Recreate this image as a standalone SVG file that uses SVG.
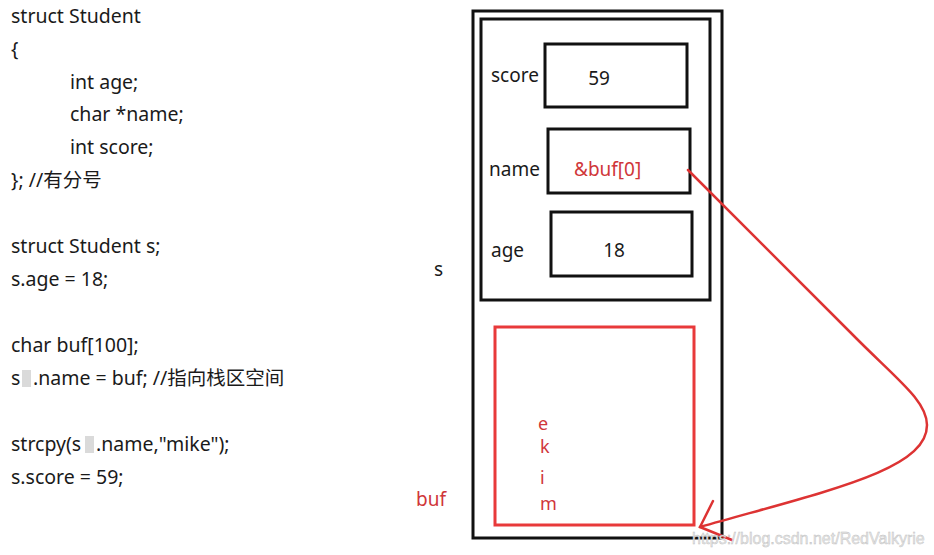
<svg xmlns="http://www.w3.org/2000/svg" width="934" height="555" viewBox="0 0 934 555">
<defs>
<style>
.code{font-family:"Noto Sans","Noto Sans CJK SC",sans-serif;font-size:19.5px;fill:#1a1a1a}
.lbl{font-family:"Noto Sans","Noto Sans CJK SC",sans-serif;font-size:19px;fill:#1a1a1a}
.ch{font-family:"Noto Sans",sans-serif;font-size:18px;fill:#d0363a}
.red{fill:#d0363a}
.box{fill:none;stroke:#111;stroke-width:3}
.rbox{fill:none;stroke:#e8393a;stroke-width:3}
.conn{fill:none;stroke:#dd3333;stroke-width:2.5;stroke-linecap:round}
</style>
</defs>
<rect width="934" height="555" fill="#fff"/>
<g id="code">
<text class="code" x="11" y="23">struct Student</text>
<text class="code" x="11" y="56">{</text>
<text class="code" x="70" y="89">int age;</text>
<text class="code" x="70" y="121">char *name;</text>
<text class="code" x="70" y="154">int score;</text>
<text class="code" x="11" y="187">}; //有分号</text>
<text class="code" x="11" y="253">struct Student s;</text>
<text class="code" x="11" y="286">s.age = 18;</text>
<text class="code" x="11" y="352">char buf[100];</text>
<text class="code" x="11" y="385">s<tspan x="33">.name = buf; //指向栈区空间</tspan></text>
<rect x="22" y="370" width="9" height="17" fill="#dadada"/>
<text class="code" x="11" y="451">strcpy(s<tspan x="96">.name,"mike");</tspan></text>
<rect x="85" y="436" width="9" height="17" fill="#dadada"/>
<text class="code" x="11" y="484">s.score = 59;</text>
</g>
<g id="s-outer">
<rect class="box" x="473" y="11" width="249" height="527"/>
<text class="lbl" x="434" y="276">s</text>
</g>
<g id="struct-s">
<rect class="box" x="481" y="19" width="229" height="281"/>
</g>
<g id="score">
<rect class="box" x="545" y="44" width="142" height="63"/>
<text class="lbl" x="491" y="82">score</text>
<text class="lbl" x="599" y="85" text-anchor="middle">59</text>
</g>
<g id="name">
<rect class="box" x="548" y="129" width="142" height="64"/>
<text class="lbl" x="489" y="176">name</text>
<text class="lbl red" x="574" y="176">&amp;buf[0]</text>
</g>
<g id="age">
<rect class="box" x="551" y="212" width="141" height="64"/>
<text class="lbl" x="491" y="257">age</text>
<text class="lbl" x="614" y="257" text-anchor="middle">18</text>
</g>
<g id="buf">
<rect class="rbox" x="495" y="327" width="199" height="198"/>
<text class="lbl red" x="416" y="506">buf</text>
<text class="ch" x="538" y="430">e</text>
<text class="ch" x="540" y="453">k</text>
<text class="ch" x="540" y="484">i</text>
<text class="ch" x="540" y="510">m</text>
</g>
<g id="connectors">
<path class="conn" d="M688,170 L850,332 C895,378 927,400 927,425 C927,470 830,490 700,527"/>
<path class="conn" d="M713,501 L700,527 L732,540"/>
</g>
<text x="692" y="544" font-family="Liberation Sans, sans-serif" font-size="16" fill="#e6e6e6" stroke="#bdbdbd" stroke-width="0.4">https://blog.csdn.net/RedValkyrie</text>
</svg>
